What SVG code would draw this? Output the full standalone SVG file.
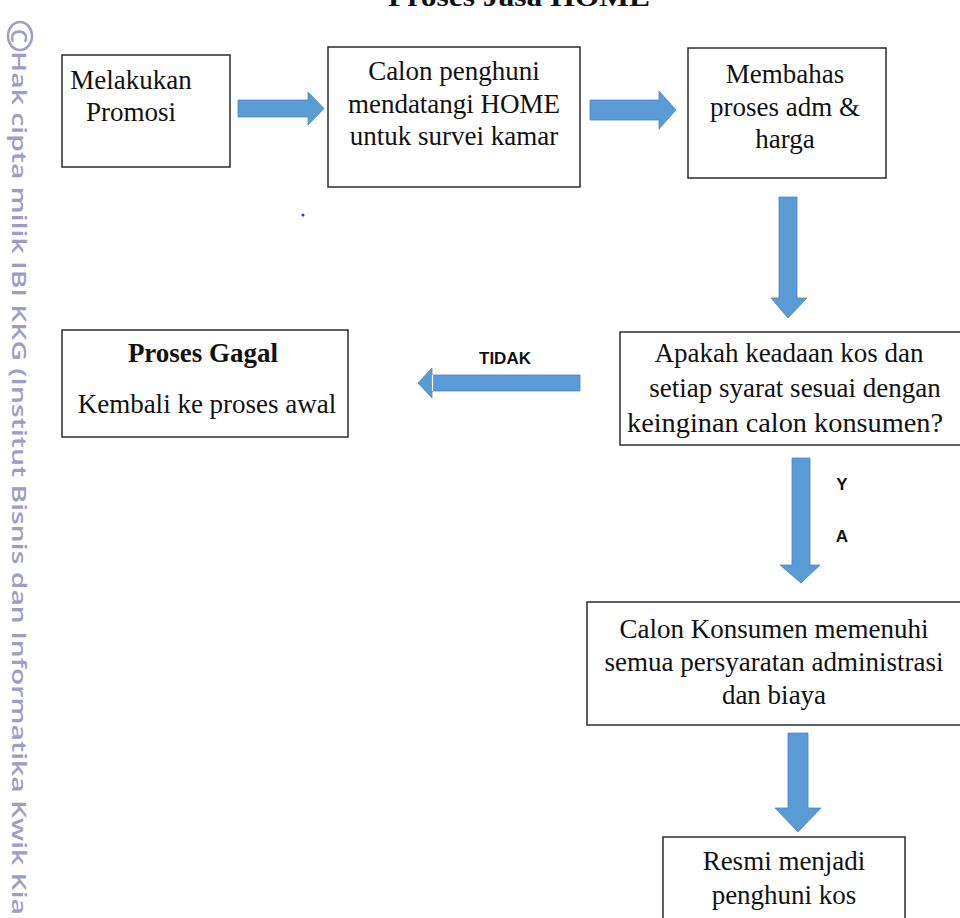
<svg xmlns="http://www.w3.org/2000/svg" width="960" height="918" viewBox="0 0 960 918">
<defs>
<style>
.box{fill:#fff;stroke:#2b2b2b;stroke-width:1.5}
.t{font-family:"Liberation Serif","Times New Roman",serif;font-size:27px;fill:#111;text-anchor:middle}
.b{font-weight:bold}
.lbl{font-family:"Liberation Sans",Arial,sans-serif;font-size:17px;font-weight:bold;fill:#111;text-anchor:middle}
.arr{fill:#5b9bd5;stroke:#4a87c2;stroke-width:0.8}
.wm{font-family:"Open Sans","DejaVu Sans",sans-serif;font-weight:600;fill:#9d9dc6}
</style>
</defs>
<rect width="960" height="918" fill="#fff"/>
<g id="watermark">
<ellipse cx="20" cy="36" rx="12" ry="14" fill="none" stroke="#9d9dc6" stroke-width="2.5"/>
<text class="wm" font-size="22" font-weight="bold" transform="translate(20,36) rotate(90)" text-anchor="middle" dominant-baseline="central">C</text>
<text class="wm" font-size="20" transform="translate(12,51) rotate(90)" textLength="864" lengthAdjust="spacingAndGlyphs">Hak cipta milik IBI KKG (Institut Bisnis dan Informatika Kwik Kia</text>
</g>
<text id="title" class="t b" x="519" y="6" font-size="30" textLength="262" lengthAdjust="spacingAndGlyphs">Proses Jasa HOME</text>
<g id="connectors">
<polygon class="arr" points="238,100 308,100 308,92 324,108.5 308,125 308,117 238,117"/>
<polygon class="arr" points="590,100 659,100 659,91 676,110 659,129 659,120 590,120"/>
<polygon class="arr" points="779,197 797,197 797,298 807,298 788,318 771,298 779,298"/>
<polygon class="arr" points="580,375 432,375 432,368 418,383 432,398 432,391 580,391"/>
<line x1="432.5" y1="375" x2="432.5" y2="391" stroke="#fff" stroke-width="1.2"/>
<polygon class="arr" points="792,458 810,458 810,565 820,565 801,583 780,565 792,565"/>
<polygon class="arr" points="788,733 808,733 808,808 821,808 798,832 775,808 788,808"/>
<text class="lbl" x="505" y="364">TIDAK</text>
<text class="lbl" x="842" y="490">Y</text>
<text class="lbl" x="842" y="542">A</text>
</g>
<circle cx="303" cy="215" r="1.5" fill="#1a3cd6"/>
<g id="n1">
<rect class="box" x="62" y="55" width="168" height="112"/>
<text class="t" x="131" y="89">Melakukan</text>
<text class="t" x="131" y="121">Promosi</text>
</g>
<g id="n2">
<rect class="box" x="328" y="47" width="252" height="140"/>
<text class="t" x="454" y="80" font-size="26">Calon penghuni</text>
<text class="t" x="454" y="113" font-size="26">mendatangi HOME</text>
<text class="t" x="454" y="145" font-size="26">untuk survei kamar</text>
</g>
<g id="n3">
<rect class="box" x="688" y="48" width="198" height="130"/>
<text class="t" x="785" y="83">Membahas</text>
<text class="t" x="785" y="116">proses adm &amp;</text>
<text class="t" x="785" y="148">harga</text>
</g>
<g id="n4">
<rect class="box" x="620" y="332" width="345" height="113"/>
<text class="t" x="789" y="362">Apakah keadaan kos dan</text>
<text class="t" x="795" y="397">setiap syarat sesuai dengan</text>
<text class="t" x="785" y="432" textLength="316" lengthAdjust="spacingAndGlyphs">keinginan calon konsumen?</text>
</g>
<g id="n5">
<rect class="box" x="62" y="330" width="286" height="107"/>
<text class="t b" x="203" y="362" font-size="26">Proses Gagal</text>
<text class="t" x="207" y="413" font-size="25">Kembali ke proses awal</text>
</g>
<g id="n6">
<rect class="box" x="587" y="602" width="378" height="123"/>
<text class="t" x="774" y="638">Calon Konsumen memenuhi</text>
<text class="t" x="774" y="671">semua persyaratan administrasi</text>
<text class="t" x="774" y="704">dan biaya</text>
</g>
<g id="n7">
<rect class="box" x="663" y="837" width="242" height="90"/>
<text class="t" x="784" y="870">Resmi menjadi</text>
<text class="t" x="784" y="904">penghuni kos</text>
</g>
</svg>
